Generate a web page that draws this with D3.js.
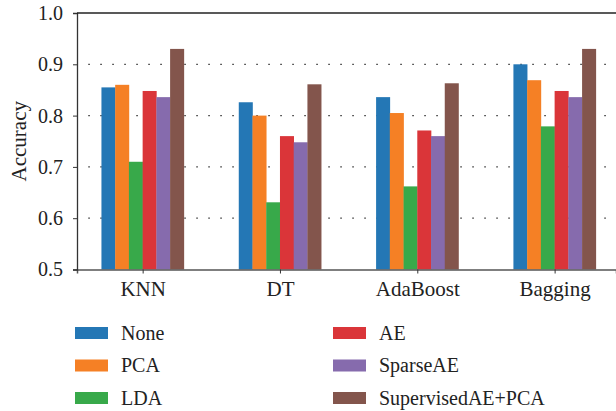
<!DOCTYPE html>
<html><head><meta charset="utf-8">
<script src="https://cdn.jsdelivr.net/npm/d3@7"></script>
<style>body{margin:0;background:#fff}svg{display:block}</style>
</head><body><svg id="c" width="616" height="411"></svg>
<script>
const categories = ["KNN","DT","AdaBoost","Bagging"];
const series = ["None","PCA","LDA","AE","SparseAE","SupervisedAE+PCA"];
const colors = ["#2477b5","#f58025","#38a94a","#da3539","#866bad","#83554c"];
const valNone = [0.855,0.826,0.836,0.900];
const valPCA = [0.860,0.800,0.805,0.869];
const valLDA = [0.710,0.631,0.662,0.779];
const valAE = [0.848,0.760,0.771,0.848];
const valSparseAE = [0.836,0.748,0.760,0.836];
const valSupAEPCA = [0.930,0.861,0.863,0.930];
const yTicks = [0.5,0.6,0.7,0.8,0.9,1.0];
const values = [valNone,valPCA,valLDA,valAE,valSparseAE,valSupAEPCA];
const FONT = '"Liberation Serif","Times New Roman",serif';

const svg = d3.select("#c");
const L=77, T=13, B=269.5, R=616;
const x = d3.scaleLinear().domain([-0.478,3.447]).range([L,R]);
const y = d3.scaleLinear().domain([0.5,1.0]).range([B,T]);
const bw = 0.1;

// grid
svg.append("g").selectAll("line").data([0.6,0.7,0.8,0.9]).join("line")
  .attr("x1",L).attr("x2",R).attr("y1",d=>y(d)).attr("y2",d=>y(d))
  .attr("stroke","#333").attr("stroke-width",1.3)
  .attr("stroke-dasharray","1.5,10.5").attr("stroke-dashoffset",-11.3);

// bars
series.forEach((s,si)=>{
  svg.append("g").selectAll("rect").data(values[si]).join("rect")
    .attr("x",(d,i)=>x(i+(si-3)*bw))
    .attr("width",x(bw)-x(0)+0.3)
    .attr("y",d=>y(d)).attr("height",d=>y(0.5)-y(d))
    .attr("fill",colors[si]);
});

// axes
const xa = svg.append("g").attr("transform",`translate(0,${B})`)
  .call(d3.axisBottom(x).tickValues([0,1,2,3]).tickFormat(i=>categories[i]).tickSize(4).tickPadding(8));
xa.select(".domain").attr("stroke","#555").attr("stroke-width",1.5);
xa.selectAll(".tick line").attr("stroke","#333");
xa.selectAll("text").attr("font-size",21).style("font-family",FONT).style("fill","#222");

const ya = svg.append("g").attr("transform",`translate(${L},0)`)
  .call(d3.axisLeft(y).tickValues(yTicks).tickFormat(d3.format(".1f")).tickSize(4).tickPadding(10));
ya.select(".domain").attr("stroke","#333").attr("stroke-width",1.3);
ya.selectAll(".tick line").attr("stroke","#333");
ya.selectAll("text").attr("font-size",20).style("font-family",FONT).style("fill","#222");

svg.append("line").attr("x1",L).attr("x2",R).attr("y1",T).attr("y2",T).attr("stroke","#222").attr("stroke-width",1.3);

svg.append("text").attr("transform",`translate(19,${(T+B)/2}) rotate(-90)`)
  .attr("text-anchor","middle").attr("dy","0.33em").attr("font-size",21).style("font-family",FONT).style("fill","#222").text("Accuracy");

// legend
const lg = svg.append("g");
series.forEach((s,si)=>{
  const col = Math.floor(si/3), row = si%3;
  const lx = col? 333:75, ly = 333 + row*32.5;
  lg.append("rect").attr("x",lx).attr("y",ly-6).attr("width",33).attr("height",12).attr("fill",colors[si]);
  lg.append("text").attr("x",lx+46).attr("y",ly).attr("dy","0.33em").attr("font-size",20)
    .style("font-family",FONT).style("fill","#222").text(s);
});
</script></body></html>
